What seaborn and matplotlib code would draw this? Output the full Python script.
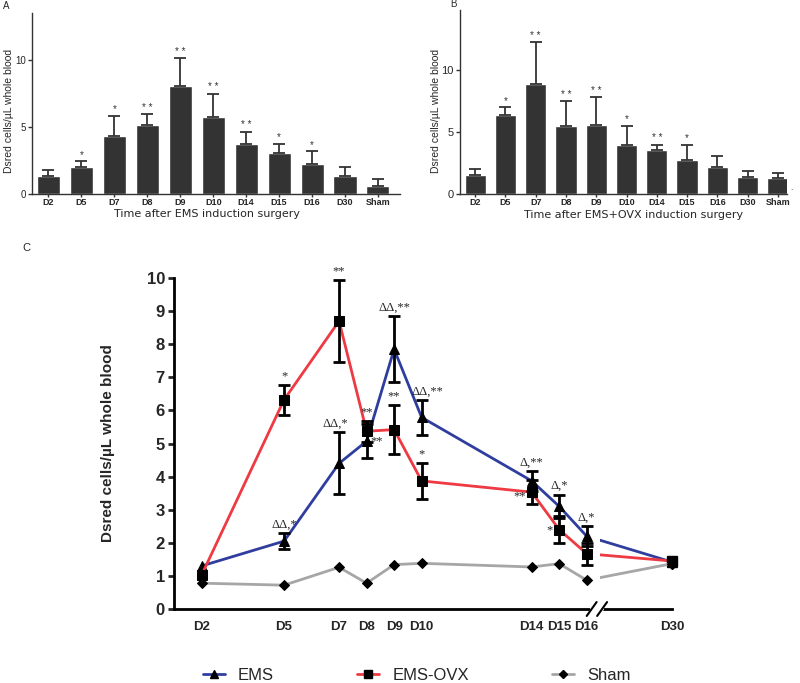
import numpy as np
import matplotlib
matplotlib.use("Agg")
import matplotlib.pyplot as plt
import seaborn as sns
from matplotlib.lines import Line2D
from matplotlib.patches import Rectangle

sns.set_style("ticks")
plt.rcParams["font.family"] = ["Liberation Sans", "DejaVu Sans"]

# ---- panel A / B data (bar charts) ----
bar_days = ["D2", "D5", "D7", "D8", "D9", "D10", "D14", "D15", "D16", "D30", "Sham"]

ems_bar = [1.32, 2.0, 4.35, 5.17, 8.03, 5.75, 3.76, 3.06, 2.26, 1.32, 0.62]
ems_bar_err = [0.45, 0.46, 1.5, 0.8, 2.12, 1.74, 0.89, 0.7, 0.95, 0.69, 0.52]
ems_bar_sig = ["", "*", "*", "* *", "* *", "* *", "* *", "*", "*", "", ""]

ovx_bar = [1.5, 6.38, 8.85, 5.5, 5.52, 3.97, 3.51, 2.73, 2.14, 1.39, 1.29]
ovx_bar_err = [0.5, 0.59, 3.35, 2.0, 2.25, 1.53, 0.46, 1.24, 0.94, 0.49, 0.4]
ovx_bar_sig = ["", "*", "* *", "* *", "* *", "*", "* *", "*", "", "", ""]

# ---- panel C data (time course) ----
days = [2, 5, 7, 8, 9, 10, 14, 15, 16, 30]
day_labels = ["D2", "D5", "D7", "D8", "D9", "D10", "D14", "D15", "D16", "D30"]

ems = [1.3, 2.05, 4.4, 5.07, 7.85, 5.79, 3.87, 3.1, 2.2, 1.42]
ems_err = [0, 0.24, 0.94, 0.52, 1.0, 0.52, 0.3, 0.35, 0.3, 0]
ems_sig = ["", "ΔΔ,*", "ΔΔ,*", "**", "ΔΔ,**", "ΔΔ,**", "Δ,**", "Δ,*", "Δ,*", ""]

ovx = [1.02, 6.32, 8.7, 5.37, 5.42, 3.87, 3.53, 2.4, 1.67, 1.45]
ovx_err = [0, 0.46, 1.24, 0.31, 0.75, 0.55, 0.37, 0.4, 0.33, 0]
ovx_sig = ["", "*", "**", "**", "**", "*", "**", "*", "", ""]

sham = [0.78, 0.72, 1.26, 0.78, 1.34, 1.38, 1.27, 1.37, 0.87, 1.37]

bar_color = "#333333"
c_ems, c_ovx, c_sham = "#2F3E9E", "#EE3A43", "#A6A6A6"


def axis_pos(d):
    # broken x axis: D30 sits a little after D16
    return d if d <= 16 else 19.1


def bar_panel(ax, vals, errs, sigs, ymax, xmax, fs):
    sns.barplot(x=bar_days, y=vals, color=bar_color, width=0.7, saturation=1, ax=ax)
    x = np.arange(len(vals))
    ax.errorbar(x, vals, yerr=[np.zeros(len(vals)), errs], fmt="none",
                ecolor=bar_color, elinewidth=1.3, capsize=4.3, capthick=1.3)
    for xi, v, e, s in zip(x, vals, errs, sigs):
        if s:
            ax.text(xi, v + e + 0.1, s, ha="center", va="bottom", fontsize=7, color=bar_color)
    ax.set_xlim(-0.5, xmax)
    ax.set_ylim(0, ymax)
    ax.set_yticks([0, 5, 10])
    sns.despine(ax=ax)
    for sp in ["left", "bottom"]:
        ax.spines[sp].set_linewidth(1.0)
        ax.spines[sp].set_color(bar_color)
    ax.tick_params(axis="y", length=3, width=1, color=bar_color, pad=1.5, labelsize=fs)
    ax.tick_params(axis="x", length=2, width=1, color=bar_color, pad=0.8)
    ax.set_xticks(x)
    ax.set_xticklabels(bar_days, fontsize=6.5, fontweight="bold",
                       family=["Liberation Sans Narrow", "Liberation Sans"])
    ax.set_xlabel("")
    ax.set_ylabel("Dsred cells/µL whole blood", fontsize=7.5)


fig = plt.figure(figsize=(8, 6.83), dpi=100)
W, H = 800, 683

# Panel A
axA = fig.add_axes([32 / W, 1 - 194 / H, (400 - 32) / W, (194 - 13) / H])
bar_panel(axA, ems_bar, ems_bar_err, ems_bar_sig, 13.5, 10.67, 7)
axA.yaxis.set_label_coords(-0.048, 0.46)
fig.text(3 / W, 1 - 6 / H, "A", fontsize=7, va="center")
fig.text(207 / W, 1 - 214 / H, "Time after EMS induction surgery", fontsize=8,
         family="DejaVu Sans", ha="center", va="center")

# Panel B
axB = fig.add_axes([460 / W, 1 - 194 / H, (787 - 460) / W, (194 - 10) / H])
bar_panel(axB, ovx_bar, ovx_bar_err, ovx_bar_sig, 14.8, 10.3, 8)
axB.yaxis.set_label_coords(-0.057, 0.45)
fig.text(450 / W, 1 - 4 / H, "B", fontsize=7, va="center")
fig.text(634 / W, 1 - 215 / H, "Time after EMS+OVX induction surgery", fontsize=8,
         family="DejaVu Sans", ha="center", va="center")
fig.text(790 / W, 1 - 188 / H, ".", fontsize=6, va="center")

# Panel C
axC = fig.add_axes([174 / W, 1 - 609 / H, (683 - 174) / W, (609 - 278) / H])
fig.text(22 / W, 1 - 248 / H, "C", fontsize=8, va="center")

pos = [axis_pos(d) for d in days]
series = [
    (ems, ems_err, c_ems, "^", 7.5, "EMS"),
    (ovx, ovx_err, c_ovx, "s", 7, "EMS-OVX"),
    (sham, None, c_sham, "D", 5, "Sham"),
]
for vals, errs, col, mk, ms, name in series:
    sns.lineplot(x=pos[:9], y=vals[:9], color=col, lw=2, marker=mk, markersize=ms,
                 markerfacecolor="black", markeredgecolor="black", sort=False,
                 ax=axC, zorder=3)
    # segment after the axis break
    seg, = axC.plot([pos[8], pos[9]], [vals[8], vals[9]], color=col, lw=2, marker=mk,
                    ms=ms, mfc="black", mec="black", zorder=3)
    seg.set_clip_path(Rectangle((16.5, -1), 10, 12, transform=axC.transData))
    if errs is not None:
        e = np.array(errs, dtype=float)
        keep = e > 0
        axC.errorbar(np.array(pos)[keep], np.array(vals)[keep], yerr=e[keep], fmt="none",
                     ecolor="black", elinewidth=2, capsize=4.5, capthick=2, zorder=4)

# significance labels
serif = ["Liberation Serif", "DejaVu Serif"]
side_labels = {("ems", 3): (0.15, 0.0, "left"), ("ovx", 6): (-0.2, -0.12, "right"),
               ("ovx", 7): (-0.25, -0.02, "right")}
shift_x = {("ems", 2): -0.15, ("ems", 5): 0.2}
for key, vals, errs, sigs in [("ems", ems, ems_err, ems_sig), ("ovx", ovx, ovx_err, ovx_sig)]:
    for i, s in enumerate(sigs):
        if not s:
            continue
        if (key, i) in side_labels:
            dx, dy, ha = side_labels[(key, i)]
            axC.text(pos[i] + dx, vals[i] + dy, s, ha=ha, va="center", fontsize=9,
                     family=serif)
        else:
            axC.text(pos[i] + shift_x.get((key, i), 0), vals[i] + errs[i] + 0.08, s,
                     ha="center", va="bottom", fontsize=9, family=serif)

axC.set_xlim(1, 19.5)
axC.set_ylim(0, 10)
axC.set_yticks(range(0, 11))
axC.set_xticks(pos)
axC.set_xticklabels(day_labels, fontsize=9.5, fontweight="bold")
axC.set_yticklabels([str(v) for v in range(0, 11)], fontsize=12, fontweight="bold")
sns.despine(ax=axC)
axC.spines["bottom"].set_bounds(1, 19.1)
axC.spines["left"].set_bounds(0, 10)
for sp in ["left", "bottom"]:
    axC.spines[sp].set_linewidth(2)
    axC.spines[sp].set_color("black")
axC.tick_params(axis="y", length=4.5, width=2, pad=2)
axC.tick_params(axis="x", length=0, pad=9)
axC.set_ylabel("Dsred cells/µL whole blood", fontsize=11, fontweight="bold")
axC.yaxis.set_label_coords(-0.116, 0.5)
axC.set_xlabel("")

# axis break marks
axC.plot([16.2, 16.55], [0, 0], color="white", lw=3, clip_on=False, zorder=5)
for bx in [16.18, 16.56]:
    axC.plot([bx - 0.18, bx + 0.18], [-0.21, 0.21], color="black", lw=1.5,
             clip_on=False, zorder=6)

# legend
handles = [Line2D([], [], color=col, lw=2, marker=mk, ms=ms * 0.8, mfc="black", mec="black")
           for _, _, col, mk, ms, _ in series]
fig.legend(handles, [s[5] for s in series], ncol=3, loc="center left",
           bbox_to_anchor=(203 / W, 1 - 675 / H), frameon=False, fontsize=12,
           handlelength=1.3, handletextpad=0.8, columnspacing=5.0,
           borderpad=0, borderaxespad=0)

fig.savefig("out.png", dpi=100)
